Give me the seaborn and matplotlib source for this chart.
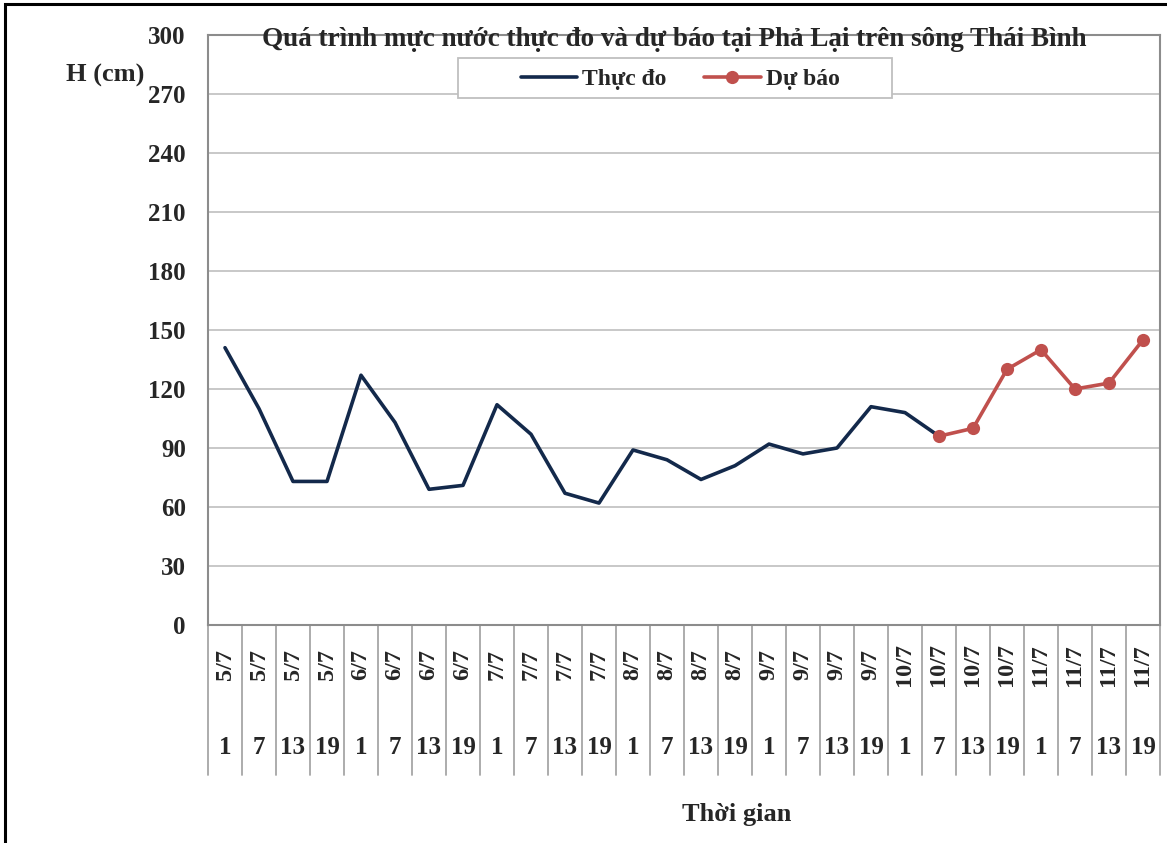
import numpy as np
import pandas as pd
import matplotlib.pyplot as plt
import seaborn as sns
from matplotlib.patches import Rectangle

# Data
dates = ['5/7'] * 4 + ['6/7'] * 4 + ['7/7'] * 4 + ['8/7'] * 4 + ['9/7'] * 4 + ['10/7'] * 4 + ['11/7'] * 4
hours = ['1', '7', '13', '19'] * 7
observed = [141, 110, 73, 73, 127, 103, 69, 71, 112, 97, 67, 62, 89, 84, 74, 81,
            92, 87, 90, 111, 108, 96]
forecast = [96, 100, 130, 140, 120, 123, 145]
forecast_start = 21
y_ticks = [0, 30, 60, 90, 120, 150, 180, 210, 240, 270, 300]

obs_df = pd.DataFrame({'pos': np.arange(len(observed)), 'H': observed})
fc_df = pd.DataFrame({'pos': np.arange(forecast_start, forecast_start + len(forecast)), 'H': forecast})

sns.set_style('white')
plt.rcParams['font.family'] = ['Liberation Serif', 'DejaVu Serif']
plt.rcParams['font.weight'] = 'bold'

fig = plt.figure(figsize=(11.67, 8.43), dpi=100)
ax = fig.add_axes([208 / 1167, 1 - 625 / 843, (1160 - 208) / 1167, 590 / 843])

# Outer chart border
fig.patches.append(Rectangle((5 / 1167, -0.1), 1.2, 1.1 - 4 / 843, transform=fig.transFigure,
                             fill=False, edgecolor='black', linewidth=2.2))

sns.lineplot(data=obs_df, x='pos', y='H', ax=ax, color='#13294B', linewidth=2.6, label='Thực đo')
sns.lineplot(data=fc_df, x='pos', y='H', ax=ax, color='#C0504D', linewidth=2.6,
             marker='o', markersize=9.5, markeredgewidth=0, label='Dự báo')

ax.set_xlim(-0.5, len(dates) - 0.5)
ax.set_ylim(0, 300)
ax.set_yticks(y_ticks)
ax.set_yticklabels([str(t) for t in y_ticks], fontsize=18, fontweight='bold')
ax.tick_params(axis='y', length=0, pad=16)
ax.set_xticks([])
ax.set_xlabel('')
ax.set_ylabel('')
ax.grid(axis='y', color='#BFBFBF', linewidth=1.2)
for s in ax.spines.values():
    s.set_color('#8C8C8C')
    s.set_linewidth(1.5)

# Category axis: separators and two-level labels
trans = ax.get_xaxis_transform()
for i in range(len(dates) + 1):
    ax.plot([i - 0.5, i - 0.5], [0, -150 / 590], transform=trans, color='#A6A6A6',
            linewidth=1.3, clip_on=False)
for i, (d, h) in enumerate(zip(dates, hours)):
    ax.text(i, -40 / 590, d, transform=trans, rotation=90, ha='center', va='center',
            fontsize=17.5, fontweight='bold')
    ax.text(i, -122 / 590, h, transform=trans, ha='center', va='center',
            fontsize=18, fontweight='bold')

fig.text(674 / 1167, 1 - 40 / 843, 'Quá trình mực nước thực đo và dự báo tại Phả Lại trên sông Thái Bình',
         ha='center', va='center', fontsize=19.5, fontweight='bold')
fig.text(105 / 1167, 1 - 75 / 843, 'H (cm)', ha='center', va='center', fontsize=19, fontweight='bold')
fig.text(737 / 1167, 1 - 815 / 843, 'Thời gian', ha='center', va='center', fontsize=19, fontweight='bold')

# Legend: entries without own frame, box drawn separately (Excel-style padding)
ax.add_patch(Rectangle(((458 - 208) / 952, (625 - 98) / 590), 434 / 952, 40 / 590,
                       transform=ax.transAxes, facecolor='white', edgecolor='#BFBFBF',
                       linewidth=1.3, zorder=4, clip_on=False))
leg = ax.legend(loc='center', bbox_to_anchor=((680 - 208) / 952, (625 - 79) / 590), ncol=2,
                frameon=False, handlelength=2.4, handletextpad=0.2, columnspacing=1.6,
                borderpad=0, borderaxespad=0, prop={'weight': 'bold', 'size': 17})
leg.set_zorder(5)

fig.savefig('out.png', dpi=100)
